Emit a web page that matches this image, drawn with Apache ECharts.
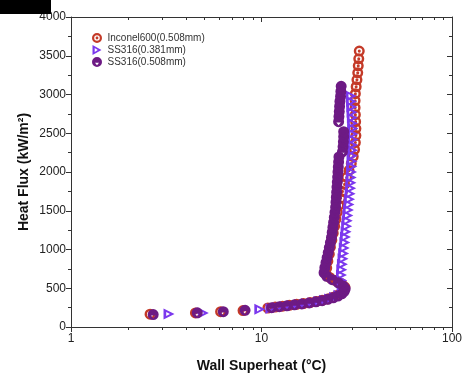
<!DOCTYPE html>
<html><head><meta charset="utf-8">
<script src="https://cdn.jsdelivr.net/npm/echarts@6/dist/echarts.min.js"></script>
<style>html,body{margin:0;padding:0;background:#fff}#chart{width:467px;height:379px}</style>
</head><body><div id="chart"></div>
<script>
// Pool boiling curves: heat flux vs. wall superheat for three heater samples
const seriesNames = ['Inconel600(0.508mm)', 'SS316(0.381mm)', 'SS316(0.508mm)'];

const inconelX = [2.6,4.5,6.1,8.0,10.8,11.8,12.9,14.0,15.3,16.6,18.0,19.4,20.8,22.2,23.5,24.8,26.0,27.0,27.4,26.3,24.5,22.8,21.8,
  22.0,22.3,22.7,23.0,23.4,23.8,24.2,24.6,25.0,25.5,26.0,26.6,27.3,28.0,28.8,29.6,30.3,30.8,31.1,31.3,31.3,31.2,31.1,31.0,31.0,31.1,31.4,31.7,32.0,32.2,32.4,32.6];
const inconelQ = [165,182,198,212,245,258,268,280,292,303,316,330,345,362,382,405,432,470,515,560,600,640,690,
  760,850,940,1030,1120,1210,1300,1390,1480,1570,1660,1750,1840,1930,2020,2110,2200,2290,2380,2470,2560,2650,2740,2830,2920,3010,3100,3190,3280,3370,3460,3560];

const ss381X = [3.27,4.95,9.8,11.2,12.2,13.3,14.5,15.8,17.2,18.6,20.0,21.4,22.8,24.2,25.5,26.5,27.0,
  26.7,26.4,26.3,26.4,26.6,26.8,27.0,27.2,27.4,27.6,27.8,28.0,28.2,28.4,28.6,28.8,29.0,29.2,29.4,29.5,29.6,29.7,29.8,29.9,30.0,30.1,30.1,30.2,30.2,30.2,30.1,30.0,29.9,29.8,29.7,29.6];
const ss381Q = [168,180,228,240,252,263,275,287,300,314,328,344,362,384,410,440,480,
  530,600,670,740,810,880,950,1020,1090,1160,1230,1300,1370,1440,1510,1580,1650,1720,1790,1860,1930,2000,2070,2140,2210,2280,2350,2420,2490,2560,2630,2700,2770,2840,2910,2980];

const ss508X = [2.7,4.6,6.3,8.2,11.3,12.4,13.6,14.9,16.3,17.8,19.3,20.8,22.3,23.8,25.2,26.4,27.2,27.5,26.8,25.3,23.5,22.0,
  21.3,21.5,21.8,22.1,22.4,22.7,23.0,23.3,23.5,23.7,23.9,24.1,24.3,24.5,24.6,24.7,24.8,24.9,25.0,25.1,25.2,25.3,25.4,25.5,
  26.6,26.8,26.9,27.0,27.0,
  25.4,25.5,25.6,25.7,25.8,26.0,26.1,26.2];
const ss508Q = [160,183,198,215,250,262,274,286,298,311,325,340,357,377,400,428,460,495,530,570,610,655,
  700,765,830,895,960,1025,1090,1155,1220,1285,1350,1415,1480,1545,1610,1675,1740,1805,1870,1935,2000,2065,2130,2195,
  2260,2325,2390,2455,2520,
  2650,2715,2780,2845,2910,2975,3040,3105];

const xMinorTicks = [2,3,4,5,6,7,8,9,20,30,40,50,60,70,80,90];

const FONT = '"Liberation Sans", Arial, sans-serif';
const AXIS_COLOR = '#333';

// Marker shapes: dotted ring, open right triangle, filled disc with a notch
const RING_DOT = 'path://M0,-10A10,10 0 1,1 0,10A10,10 0 1,1 0,-10ZM0,-5.6A5.6,5.6 0 1,0 0,5.6A5.6,5.6 0 1,0 0,-5.6ZM0,-2.8A2.8,2.8 0 1,1 0,2.8A2.8,2.8 0 1,1 0,-2.8Z';
const OPEN_TRI = 'path://M-8,-10L10,0L-8,10ZM-3.6,-3.8L-3.6,3.8L2.6,0Z';
const DISC = 'path://M0,-10A10,10 0 1,1 0,10A10,10 0 1,1 0,-10ZM-4,1.5L0,6.5L4,1.5Z';

function zip(xs, ys) { return xs.map((x, i) => [x, ys[i]]); }

const chart = echarts.init(document.getElementById('chart'), null, {renderer: 'canvas'});

const baseX = {
  type: 'log', logBase: 10, min: 1, max: 100,
  axisLine: {show: true, onZero: false, lineStyle: {color: AXIS_COLOR, width: 1}},
  splitLine: {show: false}
};
const baseY = {
  type: 'value', min: 0, max: 4000, interval: 500,
  axisLine: {show: true, onZero: false, lineStyle: {color: AXIS_COLOR, width: 1}},
  splitLine: {show: false},
  minorSplitLine: {show: false}
};

chart.setOption({
  animation: false,
  backgroundColor: '#fff',
  grid: {left: 71, right: 15, top: 17, bottom: 52, containLabel: false},
  legend: {
    left: 87, top: 28, orient: 'vertical',
    itemWidth: 11, itemHeight: 10, itemGap: 2, itemTextGap: 9,
    textStyle: {fontFamily: FONT, fontSize: 10, color: '#333'},
    data: seriesNames
  },
  xAxis: [
    Object.assign({}, baseX, {
      position: 'bottom',
      axisTick: {show: true, inside: false, length: 5, lineStyle: {color: AXIS_COLOR}},
      axisLabel: {show: true, fontFamily: FONT, fontSize: 12, color: '#222', margin: 6,
        formatter: v => String(v)},
      name: 'Wall Superheat (°C)', nameLocation: 'middle', nameGap: 32,
      nameTextStyle: {fontFamily: FONT, fontWeight: 'bold', fontSize: 14, color: '#111'}
    }),
    Object.assign({}, baseX, {
      position: 'top',
      axisTick: {show: true, inside: true, length: 5, lineStyle: {color: AXIS_COLOR}},
      axisLabel: {show: false}
    })
  ],
  yAxis: [
    Object.assign({}, baseY, {
      position: 'left',
      axisTick: {show: true, inside: false, length: 5, lineStyle: {color: AXIS_COLOR}},
      minorTick: {show: true, splitNumber: 2, length: 3, lineStyle: {color: AXIS_COLOR}},
      axisLabel: {show: true, fontFamily: FONT, fontSize: 12, color: '#222', margin: 5,
        formatter: v => String(v)},
      name: 'Heat Flux (kW/m²)', nameLocation: 'middle', nameGap: 40, nameMoveOverlap: false,
      nameTextStyle: {fontFamily: FONT, fontWeight: 'bold', fontSize: 14, color: '#111'}
    }),
    Object.assign({}, baseY, {
      position: 'right',
      axisTick: {show: true, inside: true, length: 5, lineStyle: {color: AXIS_COLOR}},
      minorTick: {show: true, splitNumber: 2, length: 3, lineStyle: {color: AXIS_COLOR}},
      axisLabel: {show: false}
    })
  ],
  series: [
    {
      name: seriesNames[0], type: 'scatter', xAxisIndex: 0, yAxisIndex: 0,
      symbol: RING_DOT, symbolSize: 11,
      itemStyle: {color: '#c43a28', opacity: 1},
      data: zip(inconelX, inconelQ), z: 2
    },
    {
      name: seriesNames[1], type: 'scatter', xAxisIndex: 0, yAxisIndex: 0,
      symbol: OPEN_TRI, symbolSize: 11,
      itemStyle: {color: '#7b38ee', opacity: 1},
      data: zip(ss381X, ss381Q), z: 3
    },
    {
      name: seriesNames[2], type: 'scatter', xAxisIndex: 0, yAxisIndex: 0,
      symbol: DISC, symbolSize: 11,
      itemStyle: {color: '#6d1a84', opacity: 1},
      data: zip(ss508X, ss508Q), z: 4
    }
  ]
});

// Minor ticks at 2..9 and 20..90 on the bottom (outward) and top (inward) log axes
const yBottom = chart.convertToPixel({yAxisIndex: 0}, 0);
const yTop = chart.convertToPixel({yAxisIndex: 0}, 4000);
const elements = [];
xMinorTicks.forEach(v => {
  const px = Math.round(chart.convertToPixel({xAxisIndex: 0}, v)) + 0.5;
  elements.push({type: 'line', z: 50, silent: true,
    shape: {x1: px, y1: yBottom, x2: px, y2: yBottom + 3},
    style: {stroke: AXIS_COLOR, lineWidth: 1}});
  elements.push({type: 'line', z: 50, silent: true,
    shape: {x1: px, y1: yTop, x2: px, y2: yTop + 3},
    style: {stroke: AXIS_COLOR, lineWidth: 1}});
});
// Dark tab in the upper-left corner
elements.push({type: 'rect', z: 100, silent: true,
  shape: {x: 0, y: 0, width: 51, height: 14}, style: {fill: '#000'}});

chart.setOption({graphic: {elements: elements}});
</script></body></html>
